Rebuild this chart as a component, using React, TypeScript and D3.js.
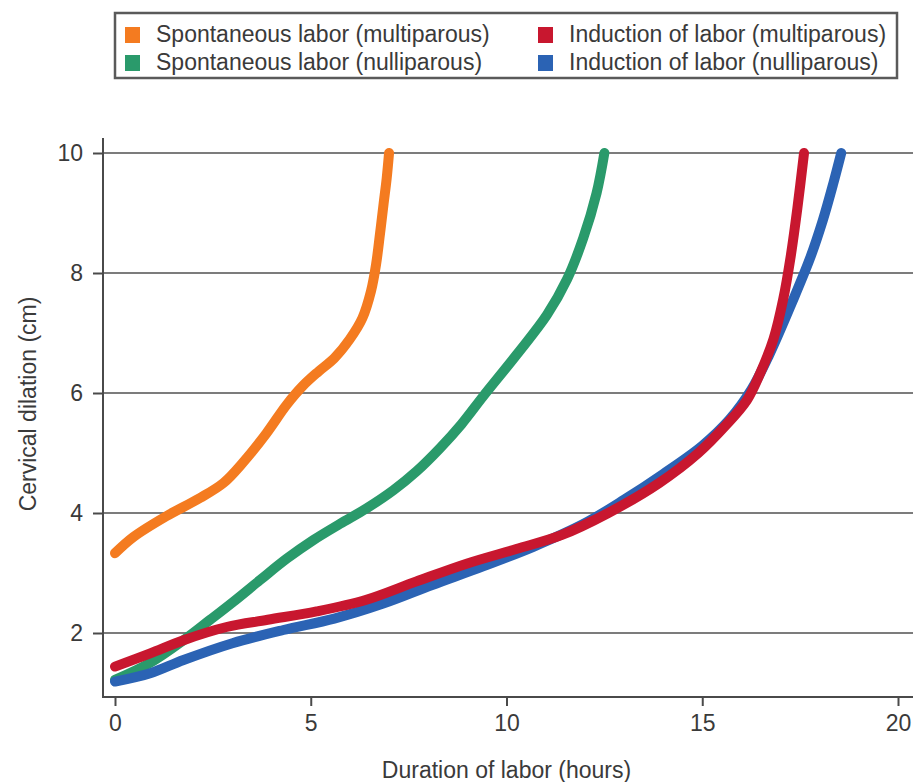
import React, { useEffect, useRef } from 'react';
import * as d3 from 'd3';

// Curves: [hours, cm]
const spontMulti: [number, number][] = [
  [0, 3.33], [0.47, 3.6], [1.32, 3.95], [2.17, 4.25], [2.77, 4.5], [3.28, 4.85],
  [3.87, 5.33], [4.38, 5.8], [4.8, 6.12], [5.2, 6.36], [5.6, 6.58], [6.0, 6.9],
  [6.32, 7.25], [6.54, 7.7], [6.67, 8.15], [6.77, 8.66], [6.86, 9.15], [6.94, 9.58], [7.0, 10],
];
const spontNulli: [number, number][] = [
  [0, 1.22], [0.89, 1.5], [1.75, 1.88], [2.43, 2.22], [3.02, 2.52], [3.7, 2.88],
  [4.39, 3.24], [5.07, 3.55], [5.75, 3.82], [6.43, 4.08], [7.11, 4.38], [7.71, 4.7],
  [8.3, 5.08], [8.85, 5.48], [9.41, 5.95], [10.26, 6.64], [11.03, 7.3], [11.55, 7.9],
  [11.96, 8.58], [12.3, 9.33], [12.5, 10],
];
const inducMulti: [number, number][] = [
  [0, 1.44], [0.9, 1.66], [1.75, 1.88], [2.85, 2.1], [3.9, 2.22], [5.15, 2.36],
  [6.4, 2.55], [7.7, 2.86], [9.0, 3.16], [10.25, 3.4], [11.4, 3.63], [12.6, 4.0],
  [13.9, 4.5], [14.9, 5.0], [15.6, 5.46], [16.14, 5.88], [16.48, 6.33],
  [16.82, 6.9], [17.07, 7.57], [17.26, 8.28], [17.43, 9.08], [17.6, 10],
];
const inducNulli: [number, number][] = [
  [0, 1.19], [0.9, 1.33], [1.75, 1.55], [3.0, 1.83], [4.3, 2.05], [5.6, 2.24],
  [6.85, 2.49], [8.1, 2.8], [9.4, 3.11], [10.7, 3.44], [12.0, 3.83], [13.0, 4.22],
  [14.0, 4.65], [15.0, 5.12], [15.7, 5.56], [16.25, 6.05], [16.7, 6.62], [17.3, 7.52],
  [17.75, 8.24], [18.08, 8.88], [18.35, 9.5], [18.55, 10],
];

const xTicks = [0, 5, 10, 15, 20];
const yTicks = [2, 4, 6, 8, 10];

const legendItems = [
  { label: 'Spontaneous labor (multiparous)', color: '#f47b20', col: 0, row: 0 },
  { label: 'Spontaneous labor (nulliparous)', color: '#2a9a6b', col: 0, row: 1 },
  { label: 'Induction of labor (multiparous)', color: '#c8172f', col: 1, row: 0 },
  { label: 'Induction of labor (nulliparous)', color: '#2b63b4', col: 1, row: 1 },
];

// drawing order: red last so it sits on top of blue
const series = [
  { data: spontMulti, color: '#f47b20' },
  { data: spontNulli, color: '#2a9a6b' },
  { data: inducNulli, color: '#2b63b4' },
  { data: inducMulti, color: '#c8172f' },
];

const W = 916;
const H = 782;
const FONT = '"Liberation Sans", Arial, Helvetica, sans-serif';
const TEXT = '#3a3a3a';

const App = () => {
  const ref = useRef<SVGSVGElement | null>(null);

  useEffect(() => {
    const svg = d3.select(ref.current);
    svg.selectAll('*').remove();

    const plot = { left: 103, right: 913, top: 138, bottom: 697 };
    const x = d3.scaleLinear().domain([0, 20]).range([115, 898]);
    const y = d3.scaleLinear().domain([2, 10]).range([633, 153]);

    // gridlines
    svg.append('g')
      .selectAll('line')
      .data(yTicks)
      .enter().append('line')
      .attr('x1', plot.left).attr('x2', plot.right)
      .attr('y1', d => y(d)).attr('y2', d => y(d))
      .attr('stroke', '#7c7c7c')
      .attr('stroke-width', 2);

    // L-shaped box
    svg.append('path')
      .attr('d', `M${plot.left},${plot.top}V${plot.bottom}H${plot.right}`)
      .attr('fill', 'none')
      .attr('stroke', '#4a4a4a')
      .attr('stroke-width', 2);

    // axes
    const gx = svg.append('g')
      .attr('transform', `translate(0,${plot.bottom})`)
      .call(d3.axisBottom(x).tickValues(xTicks).tickSize(9).tickPadding(9));
    gx.select('.domain').remove();

    const gy = svg.append('g')
      .attr('transform', `translate(${plot.left},0)`)
      .call(d3.axisLeft(y).tickValues(yTicks).tickSize(10).tickPadding(10));
    gy.select('.domain').remove();

    [gx, gy].forEach(g => {
      g.selectAll('.tick line').attr('stroke', '#4a4a4a').attr('stroke-width', 2);
      g.selectAll('.tick text')
        .style('font-family', FONT)
        .style('font-size', '23px')
        .attr('fill', TEXT);
    });

    // curves
    const line = d3.line<[number, number]>()
      .x(d => x(d[0]))
      .y(d => y(d[1]))
      .curve(d3.curveCatmullRom.alpha(0.5));

    svg.append('g')
      .selectAll('path')
      .data(series)
      .enter().append('path')
      .attr('d', d => line(d.data))
      .attr('fill', 'none')
      .attr('stroke', d => d.color)
      .attr('stroke-width', 10)
      .attr('stroke-linecap', 'round')
      .attr('stroke-linejoin', 'round');

    // axis titles
    svg.append('text')
      .attr('x', (x(0) + x(20)) / 2)
      .attr('y', 778)
      .attr('text-anchor', 'middle')
      .style('font-family', FONT)
      .style('font-size', '23px')
      .attr('fill', TEXT)
      .text('Duration of labor (hours)');

    svg.append('text')
      .attr('transform', `translate(36,${(y(2) + y(10)) / 2 + 11}) rotate(-90)`)
      .attr('text-anchor', 'middle')
      .style('font-family', FONT)
      .style('font-size', '23px')
      .attr('fill', TEXT)
      .text('Cervical dilation (cm)');

    // legend
    const lg = svg.append('g');
    lg.append('rect')
      .attr('x', 115).attr('y', 13)
      .attr('width', 782).attr('height', 65)
      .attr('fill', 'white')
      .attr('stroke', '#5a5a5a')
      .attr('stroke-width', 2.5);

    const colX = [125, 538];
    const rowY = [27, 55];
    const items = lg.selectAll('g.item')
      .data(legendItems)
      .enter().append('g')
      .attr('class', 'item')
      .attr('transform', d => `translate(${colX[d.col]},${rowY[d.row]})`);
    items.append('rect')
      .attr('width', 15).attr('height', 16)
      .attr('fill', d => d.color);
    items.append('text')
      .attr('x', 31).attr('y', 15)
      .style('font-family', FONT)
      .style('font-size', '23px')
      .attr('fill', TEXT)
      .text(d => d.label);
  }, []);

  return (
    <svg
      ref={ref}
      width={W}
      height={H}
      style={{ position: 'absolute', left: 0, top: 0, background: 'white' }}
    />
  );
};

export default App;
